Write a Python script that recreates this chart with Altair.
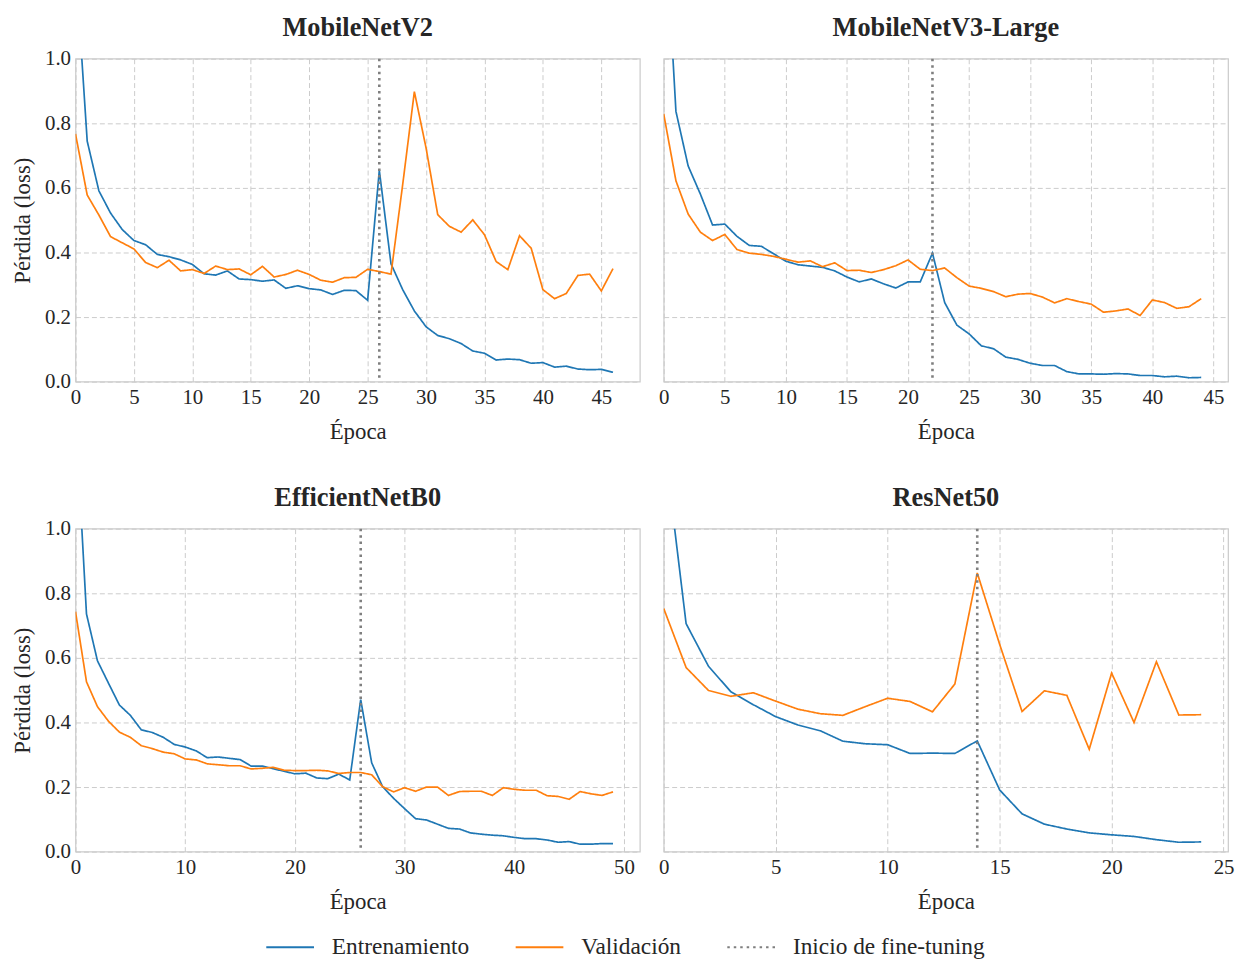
import altair as alt
import pandas as pd

FONT = "Liberation Serif"
TEXT = "#262626"
SERIES = ["Entrenamiento", "Validación", "Inicio de fine-tuning"]
COLORS = ["#1f77b4", "#ff7f0e", "#7f7f7f"]

titles = ["MobileNetV2", "MobileNetV3-Large", "EfficientNetB0", "ResNet50"]

v2_train = [1.30, 0.745, 0.591, 0.522, 0.471, 0.437, 0.424, 0.394, 0.387, 0.377,
            0.363, 0.334, 0.330, 0.343, 0.318, 0.316, 0.311, 0.315, 0.289, 0.297,
            0.288, 0.284, 0.270, 0.283, 0.282, 0.252, 0.654, 0.365, 0.285, 0.219,
            0.170, 0.143, 0.133, 0.118, 0.095, 0.088, 0.067, 0.070, 0.068, 0.057,
            0.059, 0.045, 0.048, 0.039, 0.037, 0.038, 0.029]
v2_val = [0.767, 0.578, 0.516, 0.449, 0.430, 0.411, 0.369, 0.353, 0.376, 0.343,
          0.347, 0.335, 0.358, 0.347, 0.349, 0.331, 0.357, 0.324, 0.332, 0.345,
          0.332, 0.314, 0.308, 0.322, 0.323, 0.348, 0.341, 0.333, 0.610, 0.898,
          0.724, 0.517, 0.481, 0.463, 0.501, 0.455, 0.372, 0.347, 0.452, 0.413,
          0.285, 0.257, 0.273, 0.329, 0.333, 0.281, 0.350]

v3_train = [1.51, 0.837, 0.668, 0.581, 0.485, 0.488, 0.450, 0.422, 0.419, 0.396,
            0.373, 0.362, 0.358, 0.354, 0.343, 0.324, 0.309, 0.318, 0.303, 0.290,
            0.309, 0.309, 0.398, 0.245, 0.175, 0.148, 0.111, 0.102, 0.076, 0.069,
            0.057, 0.050, 0.050, 0.031, 0.024, 0.024, 0.023, 0.025, 0.024, 0.019,
            0.019, 0.015, 0.017, 0.012, 0.013]
v3_val = [0.829, 0.622, 0.519, 0.463, 0.437, 0.456, 0.409, 0.398, 0.394, 0.388,
          0.379, 0.370, 0.374, 0.356, 0.368, 0.344, 0.345, 0.338, 0.347, 0.359,
          0.377, 0.348, 0.344, 0.352, 0.322, 0.296, 0.289, 0.279, 0.263, 0.271,
          0.273, 0.262, 0.244, 0.257, 0.248, 0.240, 0.215, 0.219, 0.225, 0.205,
          0.253, 0.245, 0.227, 0.232, 0.257]

eff_train = [1.36, 0.736, 0.591, 0.522, 0.454, 0.422, 0.377, 0.369, 0.354, 0.332,
             0.324, 0.312, 0.291, 0.293, 0.289, 0.285, 0.265, 0.265, 0.257, 0.249,
             0.241, 0.243, 0.228, 0.226, 0.240, 0.222, 0.471, 0.275, 0.201, 0.165,
             0.133, 0.102, 0.098, 0.085, 0.072, 0.070, 0.058, 0.054, 0.051, 0.049,
             0.044, 0.040, 0.040, 0.036, 0.029, 0.031, 0.023, 0.023, 0.025, 0.025]
eff_val = [0.743, 0.526, 0.449, 0.404, 0.370, 0.354, 0.328, 0.319, 0.308, 0.303,
           0.287, 0.284, 0.272, 0.269, 0.266, 0.266, 0.256, 0.258, 0.261, 0.252,
           0.251, 0.251, 0.252, 0.250, 0.242, 0.245, 0.245, 0.238, 0.201, 0.185,
           0.198, 0.187, 0.200, 0.200, 0.174, 0.186, 0.187, 0.187, 0.174, 0.198,
           0.193, 0.190, 0.190, 0.173, 0.171, 0.162, 0.186, 0.179, 0.174, 0.185]

res_train = [1.28, 0.706, 0.574, 0.495, 0.455, 0.418, 0.392, 0.374, 0.342, 0.334,
             0.331, 0.304, 0.305, 0.304, 0.343, 0.191, 0.117, 0.085, 0.070, 0.058,
             0.052, 0.047, 0.037, 0.029, 0.030]
res_val = [0.753, 0.570, 0.499, 0.481, 0.492, 0.466, 0.441, 0.427, 0.422, 0.449,
           0.475, 0.465, 0.433, 0.519, 0.863, 0.642, 0.434, 0.498, 0.484, 0.317,
           0.553, 0.400, 0.588, 0.423, 0.424]

finetune_start = [26, 22, 26, 14]
x_max = [48.3, 46.2, 51.45, 25.2]
x_ticks = [list(range(0, 50, 5)), list(range(0, 50, 5)),
           list(range(0, 60, 10)), list(range(0, 30, 5))]
y_ticks = [0.0, 0.2, 0.4, 0.6, 0.8, 1.0]

W, H = 568, 325

AX = dict(labelFont=FONT, labelFontSize=21, labelColor=TEXT,
          titleFont=FONT, titleFontSize=23, titleColor=TEXT,
          titleFontWeight="normal", grid=True, gridColor="#cccccc",
          gridDash=[5, 3], gridWidth=1, domain=False, ticks=False,
          labelPadding=5)


def panel(title, train, val, ft, xmax, xticks, show_y):
    n = len(train)
    df = pd.DataFrame({
        "Época": list(range(n)) * 2,
        "loss": list(train) + list(val),
        "serie": [SERIES[0]] * n + [SERIES[1]] * n,
    })
    rule_df = pd.DataFrame({"Época": [ft], "serie": [SERIES[2]]})

    x = alt.X("Época:Q",
              scale=alt.Scale(domain=[0, xmax], nice=False, zero=False),
              axis=alt.Axis(values=xticks, title="Época", format="d",
                            labelFlush=False, labelOverlap=False,
                            titlePadding=13, **AX))
    if show_y:
        yaxis = alt.Axis(values=y_ticks, format=".1f", title="Pérdida (loss)",
                         titlePadding=10, **AX)
    else:
        yaxis = alt.Axis(values=y_ticks, labels=False, title=None,
                         minExtent=0, maxExtent=0, **AX)
    y = alt.Y("loss:Q", scale=alt.Scale(domain=[0, 1], nice=False), axis=yaxis)
    legend = alt.Legend(title=None, labelFont=FONT, labelFontSize=23.5,
                        labelColor=TEXT, labelLimit=400)
    color = alt.Color("serie:N",
                      scale=alt.Scale(domain=SERIES, range=COLORS),
                      legend=legend)
    dash = alt.StrokeDash("serie:N",
                          scale=alt.Scale(domain=SERIES,
                                          range=[[1, 0], [1, 0], [2.5, 4]]),
                          legend=legend)

    lines = alt.Chart(df).mark_line(clip=True, strokeWidth=1.7).encode(
        x=x, y=y, color=color, strokeDash=dash)
    rule = alt.Chart(rule_df).mark_rule(strokeWidth=2.6).encode(
        x=alt.X("Época:Q"), color=color, strokeDash=dash)

    return alt.layer(lines, rule).properties(
        width=W, height=H,
        title=alt.TitleParams(title, font=FONT, fontSize=26.5, fontWeight="bold",
                              color=TEXT, anchor="middle",
                              offset=6 if show_y else 16),
    )


p1 = panel(titles[0], v2_train, v2_val, finetune_start[0], x_max[0], x_ticks[0], True)
p2 = panel(titles[1], v3_train, v3_val, finetune_start[1], x_max[1], x_ticks[1], False)
p3 = panel(titles[2], eff_train, eff_val, finetune_start[2], x_max[2], x_ticks[2], True)
p4 = panel(titles[3], res_train, res_val, finetune_start[3], x_max[3], x_ticks[3], False)

top = alt.hconcat(p1, p2, spacing=17)
bottom = alt.hconcat(p3, p4, spacing=17)

chart = alt.vconcat(top, bottom, spacing=40).properties(
    padding={"left": 11, "top": 11, "right": 5, "bottom": 5},
    background="white",
).configure(
    font=FONT,
).configure_view(
    stroke="#cccccc", strokeWidth=1.25,
).configure_legend(
    orient="none", legendX=203, legendY=881, direction="horizontal",
    columns=3, labelFont=FONT, labelFontSize=23.5, labelColor=TEXT,
    labelLimit=400, symbolType="M-2,0H2", symbolSize=576,
    symbolStrokeWidth=2, labelOffset=29, columnPadding=42,
)

chart.save("out.html", embed_options={"renderer": "svg", "actions": False})
